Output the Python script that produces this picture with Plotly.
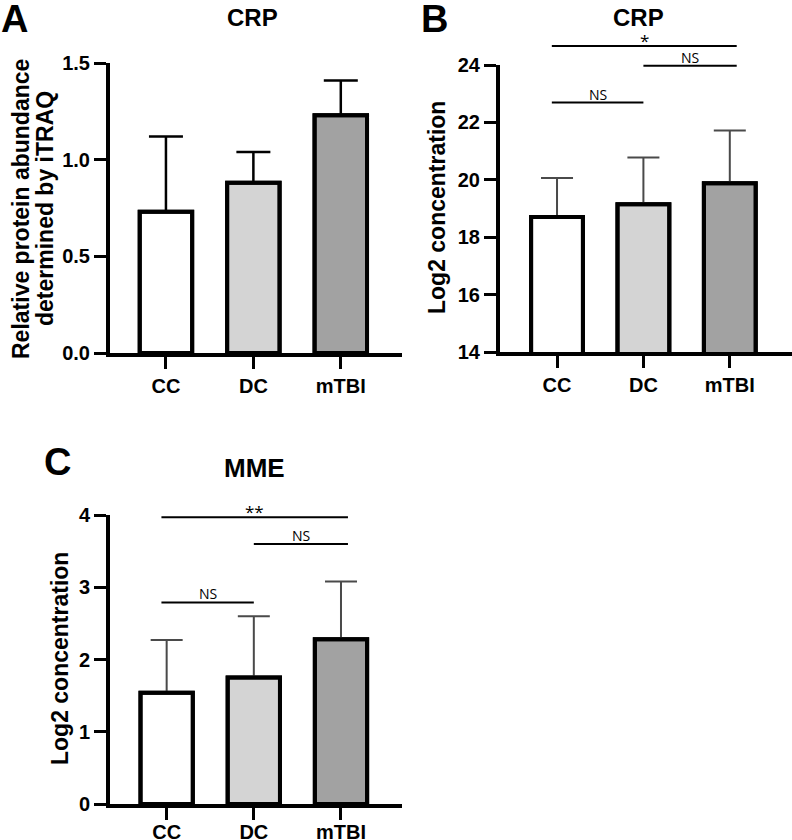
import plotly.graph_objects as go

W, H = 792, 840

categories = ["CC", "DC", "mTBI"]
bar_colors = ["#ffffff", "#d4d4d4", "#a2a2a2"]

# Panel A: CRP, relative protein abundance (iTRAQ)
itraq_mean = [0.73, 0.88, 1.23]
itraq_sd = [0.39, 0.16, 0.18]

# Panel B: CRP, log2 concentration
crp_mean = [18.70, 19.15, 19.88]
crp_sd = [1.36, 1.63, 1.84]

# Panel C: MME, log2 concentration
mme_mean = [1.54, 1.75, 2.28]
mme_sd = [0.73, 0.85, 0.80]

# Pairwise comparisons (index from, index to)
sig_from = [0, 1, 0]
sig_to = [1, 2, 2]
crp_sig_level = [22.69, 23.97, 24.66]
crp_sig_label = ["NS", "NS", "*"]
mme_sig_level = [2.79, 3.60, 3.97]
mme_sig_label = ["NS", "NS", "**"]

FONT = "Liberation Sans, Arial, sans-serif"


def px_x(p):
    return p / W


def px_y(p):
    return 1 - p / H


fig = go.Figure()


def add_bars(xa, ya, mean, sd, err_color, err_thick, err_w):
    # filled bars with upward error bars
    fig.add_trace(go.Bar(
        x=categories, y=mean, xaxis=xa, yaxis=ya, width=0.6,
        marker=dict(color=bar_colors, line=dict(color="black", width=4)),
        error_y=dict(type="data", symmetric=False, array=sd, arrayminus=[0] * len(sd),
                     color=err_color, thickness=err_thick, width=err_w),
        showlegend=False, hoverinfo="x+y",
    ))
    # outline drawn on top so the bar edge stays solid black
    fig.add_trace(go.Bar(
        x=categories, y=mean, xaxis=xa, yaxis=ya, width=0.6,
        marker=dict(color="rgba(0,0,0,0)", line=dict(color="black", width=4)),
        showlegend=False, hoverinfo="skip",
    ))


add_bars("x", "y", itraq_mean, itraq_sd, "black", 2.5, 17)
add_bars("x2", "y2", crp_mean, crp_sd, "#4a4a4a", 2, 16)
add_bars("x3", "y3", mme_mean, mme_sd, "#4a4a4a", 2, 16)

axis_common = dict(
    showline=True, linewidth=4, linecolor="black", ticks="outside",
    ticklen=12, tickwidth=3, tickcolor="black", showgrid=False, zeroline=False,
    automargin=False,
    tickfont=dict(family=FONT, size=20, color="black", weight="bold"),
)

fig.update_layout(
    width=W, height=H, margin=dict(l=0, r=0, t=0, b=0, pad=0, autoexpand=False),
    paper_bgcolor="white", plot_bgcolor="white", barmode="overlay",
    xaxis=dict(domain=[px_x(110), px_x(402)], anchor="y", type="category",
               range=[-0.64, 2.7], **axis_common),
    yaxis=dict(domain=[px_y(353), px_y(63)], anchor="x", range=[0, 1.5],
               dtick=0.5, tickformat=".1f", **axis_common),
    xaxis2=dict(domain=[px_x(500), px_x(792)], anchor="y2", type="category",
                range=[-0.66, 2.72], **axis_common),
    yaxis2=dict(domain=[px_y(352), px_y(65)], anchor="x2", range=[14, 24],
                dtick=2, **axis_common),
    xaxis3=dict(domain=[px_x(110), px_x(402)], anchor="y3", type="category",
                range=[-0.65, 2.7], ticklabelstandoff=-5, **axis_common),
    yaxis3=dict(domain=[px_y(804), px_y(515)], anchor="x3", range=[0, 4],
                dtick=1, **axis_common),
)

annotations = []
shapes = []


def paper_text(text, cx, cy, size, angle=0):
    annotations.append(dict(
        text=text, x=px_x(cx), y=px_y(cy), xref="paper", yref="paper",
        xanchor="center", yanchor="middle", showarrow=False, textangle=angle,
        font=dict(family=FONT, size=size, color="black", weight="bold"),
    ))


# panel letters and titles
paper_text("A", 14, 19, 38)
paper_text("B", 435, 19, 38)
paper_text("C", 57, 462, 38)
paper_text("CRP", 252, 17, 24)
paper_text("CRP", 638, 17, 24)
paper_text("MME", 254, 468, 26)

# axis titles
paper_text("Relative protein abundance", 21, 209, 23, -90)
paper_text("determined by iTRAQ", 45, 209, 23, -90)
paper_text("Log2 concentration", 437, 208, 23, -90)
paper_text("Log2 concentration", 60, 659, 23, -90)


def add_sig(xa, ya, rng, froms, tos, levels, labels):
    lo, hi = rng
    for f, t, lv, lab in zip(froms, tos, levels, labels):
        x0 = f - 0.06 if f == 0 else f
        x1 = t + 0.08 if t == len(categories) - 1 else t
        yd = (lv - lo) / (hi - lo)
        shapes.append(dict(type="line", xref=xa, yref=ya + " domain",
                           x0=x0, x1=x1, y0=yd, y1=yd,
                           line=dict(color="black", width=2)))
        is_star = "*" in lab
        annotations.append(dict(
            text=lab, x=(x0 + x1) / 2, y=yd, xref=xa, yref=ya + " domain",
            xanchor="center", yanchor="bottom", showarrow=False,
            yshift=-8 if is_star else -3,
            font=dict(family="Open Sans, sans-serif", size=17 if is_star else 14,
                      color="black"),
        ))


add_sig("x2", "y2", (14, 24), sig_from, sig_to, crp_sig_level, crp_sig_label)
add_sig("x3", "y3", (0, 4), sig_from, sig_to, mme_sig_level, mme_sig_label)

fig.update_layout(annotations=annotations, shapes=shapes)

fig.write_html("out.html",
               config={"displayModeBar": False},
               post_script="document.body.style.margin='0';document.body.style.overflow='hidden';")
